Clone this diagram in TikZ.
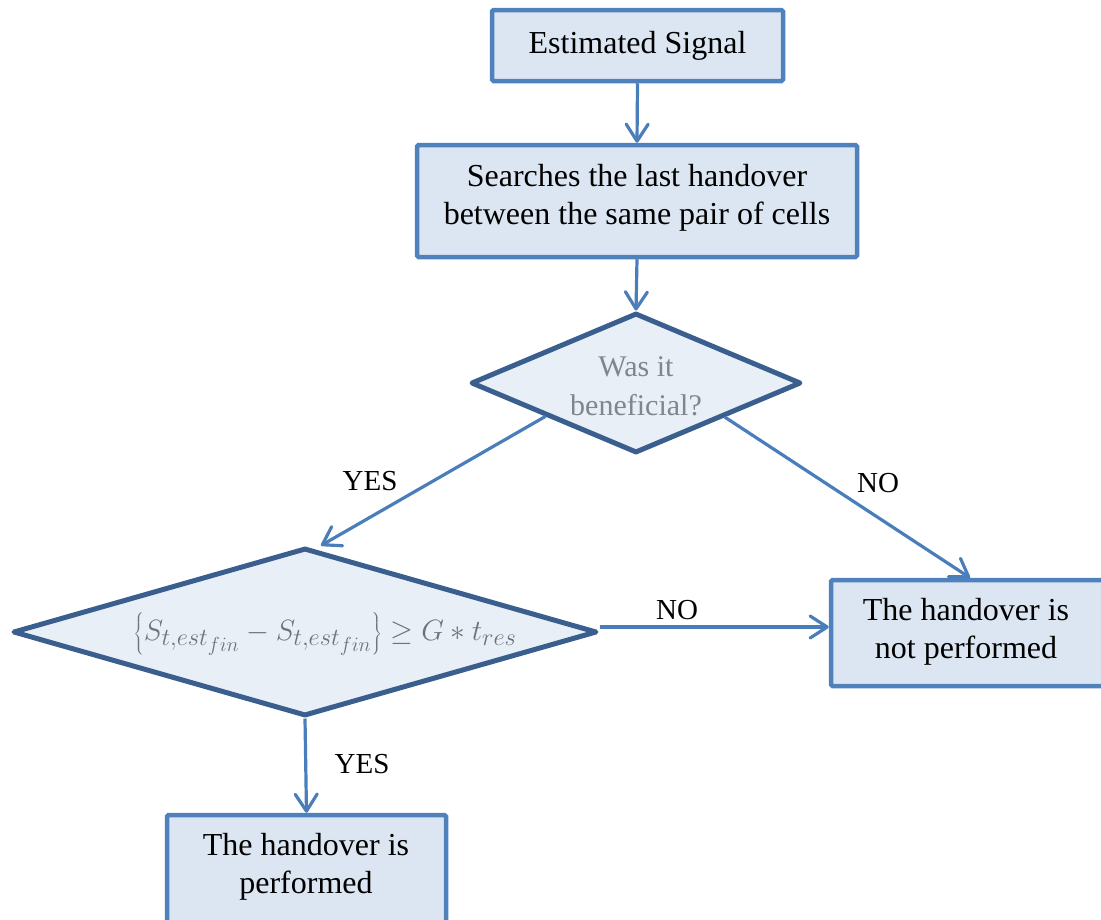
\documentclass[tikz,border=0pt]{standalone}
\usepackage{graphicx}
\usepackage{fontspec}
\setmainfont{Liberation Serif}
\usetikzlibrary{shapes.geometric,arrows.meta,calc}
\definecolor{boxline}{HTML}{4F81BD}
\definecolor{boxfill}{HTML}{DCE6F2}
\definecolor{diamline}{HTML}{3A5F8E}
\definecolor{diamfill}{HTML}{E9EFF7}
\definecolor{conn}{HTML}{4A7EBB}
\definecolor{graytext}{HTML}{7F868E}
\definecolor{mathgray}{HTML}{6C737B}
\tikzset{
  stepbox/.style={draw=boxline, fill=boxfill, line width=4.5pt, rounded corners=1.5pt,
    rectangle, align=center, inner sep=0pt,
    font=\fontsize{32}{37.5}\selectfont},
  boxtext/.style={align=center, inner sep=0pt, font=\fontsize{32}{37.5}\selectfont},
  decision/.style={draw=diamline, fill=diamfill, line width=5pt, diamond,
    inner sep=0pt, line join=round},
  dectext/.style={align=center, inner sep=0pt, text=graytext,
    font=\fontsize{30}{39}\selectfont},
  conline/.style={draw=conn, line width=3.2pt,
    -{Straight Barb[length=17pt,width=22pt,line width=3.2pt,round]}},
  lbl/.style={font=\fontsize{29}{32}\selectfont, inner sep=0pt}
}
\begin{document}
\begin{tikzpicture}[x=1pt,y=-1pt]
\useasboundingbox (0,0) rectangle (1101,919);
\node[stepbox, minimum width=291pt, minimum height=71pt] (est) at (637.5,45.5) {Estimated Signal};
\node[stepbox, minimum width=440pt, minimum height=112pt] (search) at (637,201) {};
\node[boxtext] (searcht) at (637,198) {Searches the last handover\\between the same pair of cells};
\node[decision, minimum width=330pt, minimum height=140pt] (ben) at (636,383) {};
\node[dectext] (bent) at (636,386) {Was it\\beneficial?};
\node[decision, minimum width=584pt, minimum height=168pt] (cond) at (305,632) {};
\node[dectext, text=mathgray, font=\fontsize{24.88}{30}\selectfont] (condt) at (325,634)
  {\scalebox{1.18}{$\left\{\vphantom{\Big|}S_{t,est_{fin}} - S_{t,est_{fin}}\right\} \geq G \ast t_{res}$}};
\node[stepbox, minimum width=282pt, minimum height=106pt] (notperf) at (972,633) {};
\node[boxtext] (notperft) at (966,632) {The handover is\\not performed};
\node[stepbox, minimum width=279pt, minimum height=116pt] (perf) at (306.5,873) {};
\node[boxtext] (perft) at (306,867) {The handover is\\performed};

\draw[conline] (est.south) -- (search.north);
\draw[conline] (search.south) -- (ben.north);
\coordinate (benL) at ($(ben.west)!0.46!(ben.south)$);
\coordinate (benR) at ($(ben.east)!0.47!(ben.south)$);
\coordinate (condT) at ($(cond.north)+(16,0)$);
\coordinate (condR) at ($(cond.east)+(0,-5)$);
\draw[conline] (benL) -- (condT);
\draw[conline] (benR) -- ($(notperf.north)+(-2,0)$);
\draw[conline] (condR) -- (condR -| notperf.west);
\draw[conline] (cond.south) -- (perf.north);

\node[lbl] (yes1) at (370,481) {YES};
\node[lbl] (no1) at (878,483) {NO};
\node[lbl] (no2) at (677,610) {NO};
\node[lbl] (yes2) at (362,764) {YES};
\end{tikzpicture}
\end{document}
